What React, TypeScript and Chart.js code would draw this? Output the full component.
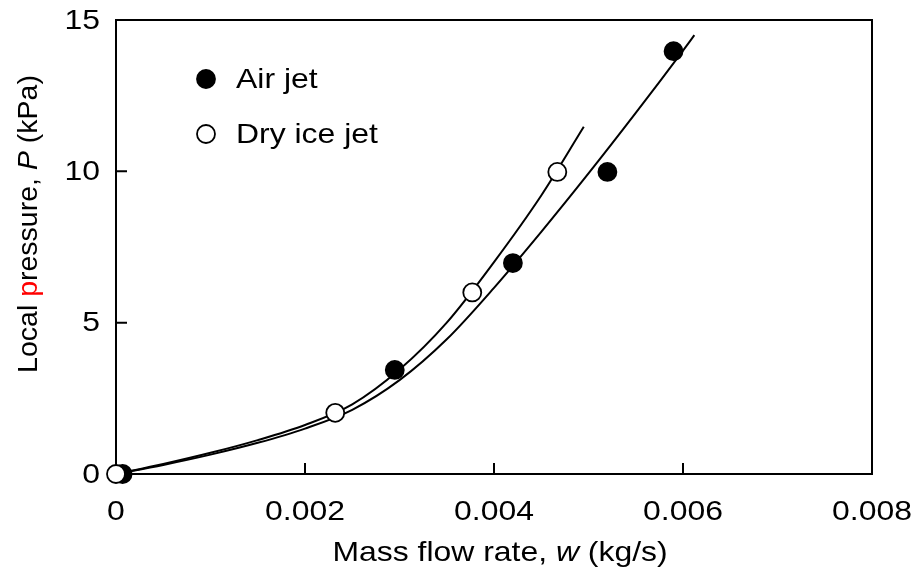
import React, { useEffect, useRef } from 'react';
import { Chart, registerables } from 'chart.js';

Chart.register(...registerables);

// Measured points
const airJetW = [0.00007, 0.00295, 0.0042, 0.0052, 0.0059];
const airJetP = [0, 3.44, 6.97, 9.98, 13.97];
const dryIceW = [0, 0.00232, 0.00377, 0.00467];
const dryIceP = [0, 2.02, 6.0, 9.98];

// Fitted curves
const airFitW = [0, 0.0005, 0.001, 0.0015, 0.002, 0.0025, 0.003, 0.0035, 0.004, 0.0045, 0.005, 0.0055, 0.006, 0.00612];
const airFitP = [0, 0.3, 0.64, 1.03, 1.5, 2.12, 3.1, 4.45, 6.15, 8.0, 9.93, 11.93, 13.99, 14.5];
const dryFitW = [0, 0.0005, 0.001, 0.0015, 0.002, 0.0025, 0.003, 0.0035, 0.004, 0.0045, 0.00495];
const dryFitP = [0, 0.33, 0.7, 1.12, 1.62, 2.3, 3.45, 5.0, 7.0, 9.2, 11.47];

// Ticks
const xTicks = [0, 0.002, 0.004, 0.006, 0.008];
const yTicks = [0, 5, 10, 15];

const legendLabels = ['Air jet', 'Dry ice jet'];

const FONT = '"Liberation Sans", Arial, Helvetica, sans-serif';
const TXT = 28; // font size of horizontal texts
const SX = 1.14; // horizontal widening of the reference lettering

const toXY = (xs: number[], ys: number[]) => xs.map((x, i) => ({ x, y: ys[i] }));

type Run = { text: string; color?: string; italic?: boolean };

function drawRuns(ctx: CanvasRenderingContext2D, runs: Run[], size: number) {
  const fontFor = (r: Run) => `${r.italic ? 'italic ' : ''}${size}px ${FONT}`;
  let total = 0;
  const widths = runs.map((r) => {
    ctx.font = fontFor(r);
    const w = ctx.measureText(r.text).width;
    total += w;
    return w;
  });
  let x = -total / 2;
  runs.forEach((r, i) => {
    ctx.font = fontFor(r);
    ctx.fillStyle = r.color || '#000';
    ctx.fillText(r.text, x, 0);
    x += widths[i];
  });
}

function drawText(
  ctx: CanvasRenderingContext2D,
  text: string,
  x: number,
  y: number,
  align: CanvasTextAlign,
) {
  ctx.save();
  ctx.translate(x, y);
  ctx.scale(SX, 1);
  ctx.font = `${TXT}px ${FONT}`;
  ctx.fillStyle = '#000';
  ctx.textAlign = align;
  ctx.textBaseline = 'middle';
  ctx.fillText(text, 0, 0);
  ctx.restore();
}

const framePlugin = {
  id: 'frameTicks',
  beforeDatasetsDraw(chart: any) {
    const { ctx, chartArea: a, scales } = chart;
    ctx.save();
    ctx.strokeStyle = '#000';
    ctx.lineWidth = 2;
    ctx.strokeRect(a.left, a.top, a.right - a.left, a.bottom - a.top);
    ctx.beginPath();
    scales.x.ticks.forEach((t: any) => {
      const px = scales.x.getPixelForValue(t.value);
      ctx.moveTo(px, a.bottom);
      ctx.lineTo(px, a.bottom - 11);
    });
    scales.y.ticks.forEach((t: any) => {
      const py = scales.y.getPixelForValue(t.value);
      ctx.moveTo(a.left, py);
      ctx.lineTo(a.left + 11, py);
    });
    ctx.stroke();
    ctx.restore();
  },
};

const labelsPlugin = {
  id: 'tickLabelsAndTitles',
  afterDraw(chart: any) {
    const { ctx, chartArea: a, scales } = chart;
    ctx.save();
    // tick labels
    scales.x.ticks.forEach((t: any) => {
      const px = scales.x.getPixelForValue(t.value);
      const s = t.value === 0 ? '0' : Number(t.value).toFixed(3);
      drawText(ctx, s, px, a.bottom + 38, 'center');
    });
    scales.y.ticks.forEach((t: any) => {
      const py = scales.y.getPixelForValue(t.value);
      drawText(ctx, String(t.value), a.left - 16, py + 1, 'right');
    });
    // x title
    ctx.textBaseline = 'alphabetic';
    ctx.textAlign = 'left';
    ctx.save();
    ctx.translate((a.left + a.right) / 2 + 6, 561);
    ctx.scale(SX, 1);
    drawRuns(ctx, [
      { text: 'Mass flow rate, ' },
      { text: 'w', italic: true },
      { text: ' (kg/s)' },
    ], TXT);
    ctx.restore();
    // y title
    ctx.save();
    ctx.translate(37, 224);
    ctx.rotate(-Math.PI / 2);
    drawRuns(ctx, [
      { text: 'Local ' },
      { text: 'p', color: '#ff0000' },
      { text: 'ressure, ' },
      { text: 'P', italic: true },
      { text: ' (kPa)' },
    ], 28.5);
    ctx.restore();
    ctx.restore();
  },
};

const legendPlugin = {
  id: 'innerLegend',
  afterDatasetsDraw(chart: any) {
    const { ctx, chartArea: a } = chart;
    const items = [
      { label: legendLabels[0], fill: '#000', dy: 59 },
      { label: legendLabels[1], fill: '#fff', dy: 114 },
    ];
    ctx.save();
    items.forEach((it) => {
      const cx = a.left + 90;
      const cy = a.top + it.dy;
      ctx.beginPath();
      ctx.arc(cx, cy, 9, 0, Math.PI * 2);
      ctx.fillStyle = it.fill;
      ctx.fill();
      ctx.lineWidth = 1.8;
      ctx.strokeStyle = '#000';
      ctx.stroke();
      drawText(ctx, it.label, a.left + 120, cy + 1, 'left');
    });
    ctx.restore();
  },
};

export default function App() {
  const ref = useRef<HTMLCanvasElement | null>(null);

  useEffect(() => {
    if (!ref.current) return;
    const chart = new Chart(ref.current, {
      type: 'scatter',
      data: {
        datasets: [
          {
            label: legendLabels[1],
            data: toXY(dryIceW, dryIceP),
            pointRadius: 9,
            pointHoverRadius: 9,
            pointBackgroundColor: '#fff',
            pointBorderColor: '#000',
            pointBorderWidth: 1.8,
            showLine: false,
            clip: false,
          } as any,
          {
            label: legendLabels[0],
            data: toXY(airJetW, airJetP),
            pointRadius: 9,
            pointHoverRadius: 9,
            pointBackgroundColor: '#000',
            pointBorderColor: '#000',
            pointBorderWidth: 1.8,
            showLine: false,
            clip: false,
          } as any,
          {
            label: 'Dry ice fit',
            data: toXY(dryFitW, dryFitP),
            showLine: true,
            pointRadius: 0,
            borderColor: '#000',
            borderWidth: 2,
            cubicInterpolationMode: 'monotone',
            fill: false,
            clip: false,
          } as any,
          {
            label: 'Air fit',
            data: toXY(airFitW, airFitP),
            showLine: true,
            pointRadius: 0,
            borderColor: '#000',
            borderWidth: 2,
            cubicInterpolationMode: 'monotone',
            fill: false,
            clip: false,
          } as any,
        ],
      },
      options: {
        responsive: false,
        animation: false,
        events: [],
        layout: { padding: { left: 0, top: 20, right: 42, bottom: 0 } },
        plugins: {
          legend: { display: false },
          tooltip: { enabled: false },
          title: { display: false },
        },
        scales: {
          x: {
            type: 'linear',
            min: 0,
            max: 0.008,
            afterBuildTicks: (s: any) => {
              s.ticks = xTicks.map((v) => ({ value: v }));
            },
            afterFit: (s: any) => {
              s.height = 102;
            },
            grid: { display: false, drawTicks: false },
            border: { display: false },
            ticks: { display: false },
            title: { display: false },
          },
          y: {
            type: 'linear',
            min: 0,
            max: 15,
            afterBuildTicks: (s: any) => {
              s.ticks = yTicks.map((v) => ({ value: v }));
            },
            afterFit: (s: any) => {
              s.width = 116;
            },
            grid: { display: false, drawTicks: false },
            border: { display: false },
            ticks: { display: false },
            title: { display: false },
          },
        },
      } as any,
      plugins: [framePlugin, labelsPlugin, legendPlugin],
    });
    return () => chart.destroy();
  }, []);

  return (
    <div style={{ position: 'fixed', left: 0, top: 0, width: 914, height: 576, background: '#fff' }}>
      <canvas ref={ref} width={914} height={576} style={{ display: 'block', width: 914, height: 576 }} />
    </div>
  );
}
